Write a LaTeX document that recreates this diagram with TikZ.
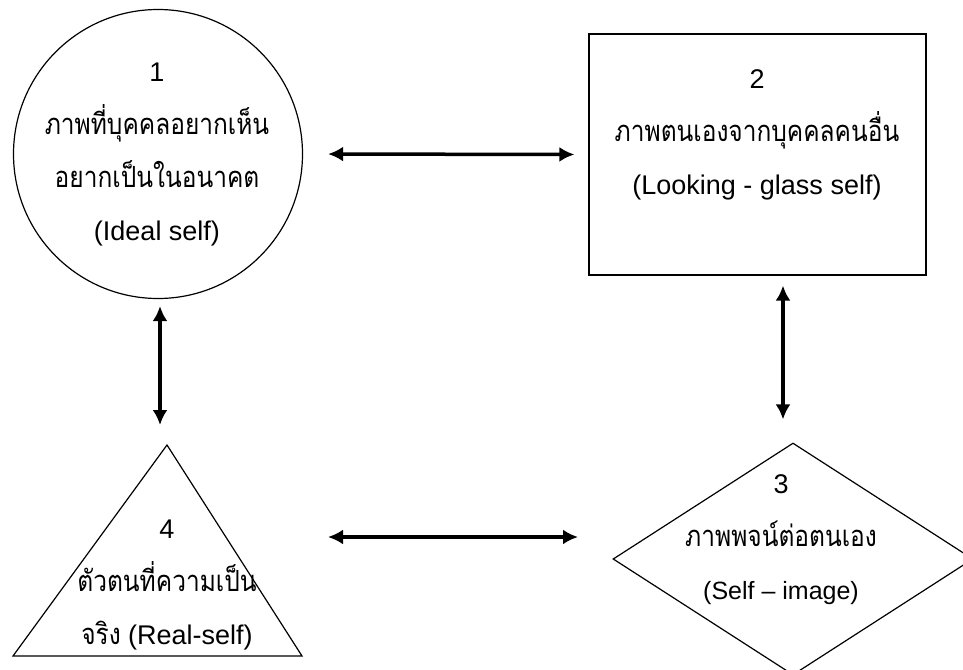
\documentclass[tikz,border=0pt]{standalone}
\usepackage{fontspec}
\setmainfont{Liberation Sans}
\newfontfamily\thaifont[Script=Thai,Scale=1.08,FakeStretch=0.84]{Loma}
\usetikzlibrary{arrows.meta, shapes.geometric, positioning, calc}

\begin{document}
\begin{tikzpicture}[x=1pt, y=-1pt, >={Latex[length=15pt,width=15pt]},
    shapeline/.style={draw, line width=1.2pt, inner sep=0pt},
    biarrow/.style={<->, line width=3.5pt},
    lbl/.style={align=center, font=\fontsize{27}{53}\selectfont}]
    % 枠
    \useasboundingbox (0,0) rectangle (963,669);
    \clip (0,0) rectangle (963,669);

    % 1: 円
    \node[shapeline, circle, minimum size=289pt] (ideal) at (158,154) {};
    \node[lbl] (idealtxt) at (157,155)
        {1\\{\thaifont ภาพที่บุคคลอยากเห็น}\\{\thaifont อยากเป็นในอนาคต}\\(Ideal self)};

    % 2: 四角
    \node[shapeline, rectangle, minimum width=337pt, minimum height=241pt] (looking) at (757.5,154.5) {};
    \node[lbl] (lookingtxt) at (757,135)
        {2\\{\thaifont ภาพตนเองจากบุคคลคนอื่น}\\(Looking - glass self)};

    % 3: ひし形 (はみ出し)
    \node[shapeline, diamond, minimum width=360pt, minimum height=232pt] (selfimg) at (793,559) {};
    \node[lbl] (selfimgtxt) at (781,540)
        {3\\{\thaifont ภาพพจน์ต่อตนเอง}\\{\fontsize{25}{53}\selectfont (Self -- image)}};

    % 4: 三角形
    \coordinate (triL) at (13,656);
    \coordinate (triR) at (302,656);
    \coordinate (triT) at (167,445);
    \draw[line width=1.2pt] (triL) -- (triT) -- (triR) -- cycle;
    \node[lbl] (realtxt) at (167,585)
        {4\\{\thaifont ตัวตนที่ความเป็น}\\{\thaifont จริง} (Real-self)};

    % 矢印
    \draw[biarrow, shorten <=25pt, shorten >=14pt] (ideal.east) -- (looking.west);
    \draw[biarrow, shorten <=7pt, shorten >=20pt] ([xshift=2pt]ideal.south) -- ([xshift=2pt]ideal.south |- triT);
    \draw[biarrow, shorten <=10pt, shorten >=23pt] ([xshift=25.5pt]looking.south) -- ([xshift=25.5pt]looking.south |- selfimg.north);
    \coordinate (realE) at (328,537);
    \coordinate (imgW) at (578,537);
    \draw[biarrow] (realE) -- (imgW);
\end{tikzpicture}
\end{document}
